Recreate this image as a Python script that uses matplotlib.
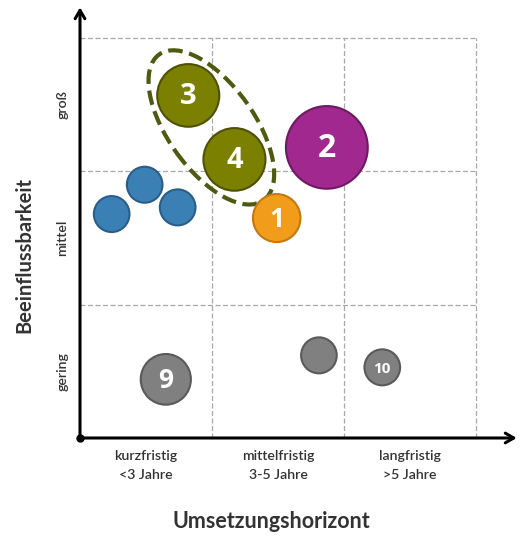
import matplotlib
matplotlib.use("Agg")
import matplotlib.pyplot as plt
from matplotlib.patches import Circle, Ellipse

# ---- data ----
bubble_labels = ["3", "4", "2", "1", "", "", "", "9", "", "10"]
bubble_x = [0.82, 1.17, 1.87, 1.49, 0.24, 0.49, 0.74, 0.65, 1.81, 2.29]
bubble_y = [2.57, 2.09, 2.18, 1.65, 1.68, 1.90, 1.73, 0.44, 0.62, 0.53]
bubble_r = [0.235, 0.235, 0.31, 0.18, 0.135, 0.135, 0.135, 0.19, 0.135, 0.135]
bubble_group = ["olive", "olive", "purple", "orange", "blue", "blue", "blue", "gray", "gray", "gray"]
label_size = [21, 21, 23, 19, 0, 0, 0, 19, 0, 11]

x_categories = ["kurzfristig\n<3 Jahre", "mittelfristig\n3-5 Jahre", "langfristig\n>5 Jahre"]
y_categories = ["gering", "mittel", "groß"]
x_title = "Umsetzungshorizont"
y_title = "Beeinflussbarkeit"

face = {"olive": "#7b8000", "purple": "#a0288f", "orange": "#f29c1c",
        "blue": "#3b80b5", "gray": "#808080"}
edge = {"olive": "#4e5200", "purple": "#6e1a63", "orange": "#c07a10",
        "blue": "#2a5e88", "gray": "#5a5a5a"}

plt.rcParams['font.family'] = ['Lato', 'DejaVu Sans']

fig = plt.figure(figsize=(5.23, 5.36), dpi=100)
W, H = 523, 536
x0, y0 = 80, 438
sx, sy = 132.0, 133.3
xmax = (518 - x0) / sx
ymax = (y0 - 6) / sy
ax = fig.add_axes([x0 / W, (H - y0) / H, (518 - x0) / W, (y0 - 6) / H])
ax.set_xlim(0, xmax)
ax.set_ylim(0, ymax)
ax.axis("off")

# grid
for v in [1, 2, 3]:
    ax.plot([v, v], [0, 3], color="#a8a8a8", lw=0.9, ls=(0, (4, 2)), zorder=1)
    ax.plot([0, 3], [v, v], color="#a8a8a8", lw=0.9, ls=(0, (4, 2)), zorder=1)

# axes arrows
ax.annotate("", xy=(xmax - 0.01, 0), xytext=(0, 0),
            arrowprops=dict(arrowstyle="->,head_length=0.6,head_width=0.35", lw=2.2, color="black",
                            shrinkA=0, shrinkB=0), annotation_clip=False, zorder=5)
ax.annotate("", xy=(0, ymax - 0.01), xytext=(0, 0),
            arrowprops=dict(arrowstyle="->,head_length=0.6,head_width=0.35", lw=2.2, color="black",
                            shrinkA=0, shrinkB=0), annotation_clip=False, zorder=5)
ax.plot([0], [0], "o", color="black", ms=5, clip_on=False, zorder=6)

# ellipse around 3 and 4
ax.add_patch(Ellipse(((bubble_x[0] + bubble_x[1]) / 2, (bubble_y[0] + bubble_y[1]) / 2),
                     width=1.35, height=0.65, angle=-54, fill=False,
                     edgecolor="#4e5a10", lw=3, ls=(0, (3.5, 1.6)), zorder=3))

for lab, x, y, r, g, fs in zip(bubble_labels, bubble_x, bubble_y, bubble_r, bubble_group, label_size):
    ax.add_patch(Circle((x, y), r, facecolor=face[g], edgecolor=edge[g], lw=1.5, zorder=4))
    if lab:
        ax.text(x, y - 0.01, lab, color="white", fontsize=fs, fontweight="bold",
                family=["Open Sans", "DejaVu Sans"],
                ha="center", va="center", zorder=5)

for i, t in enumerate(x_categories):
    ax.text(i + 0.5, -0.09, t, ha="center", va="top", fontsize=10.2, color="#333333",
            fontweight="semibold", linespacing=1.7, clip_on=False)
for i, t in enumerate(y_categories):
    ax.text(-0.135, i + 0.5, t, ha="center", va="center", rotation=90, fontsize=10.2,
            fontweight="semibold", color="#333333", clip_on=False)

ax.text(1.45, -0.63, x_title, ha="center", va="center", fontsize=15.5, fontweight="bold",
        color="#333333", clip_on=False)
ax.text(-0.42, 1.37, y_title, ha="center", va="center", rotation=90, fontsize=14.5,
        fontweight="bold", color="#333333", clip_on=False)

fig.savefig("out.png", dpi=100)
